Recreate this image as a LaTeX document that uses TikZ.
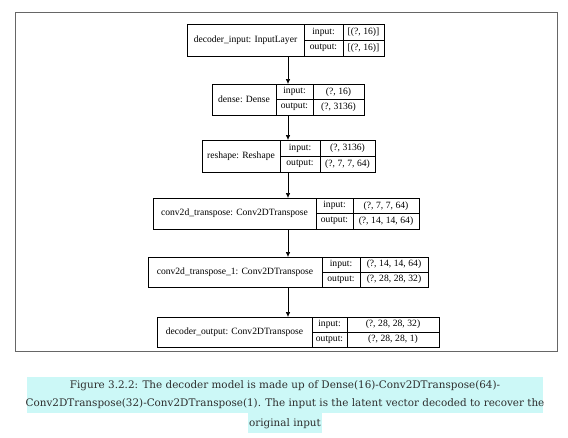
\documentclass[tikz,border=0pt]{standalone}
\usepackage{fontspec}
\setmainfont{Liberation Serif}
\newfontfamily\capfont{DejaVu Serif}
\usetikzlibrary{arrows.meta}
\definecolor{capband}{HTML}{CCF8F7}
\definecolor{captext}{HTML}{2E2E2E}
\definecolor{framegray}{HTML}{666666}
\newcommand{\valfont}{\fontsize{9.6}{11}\selectfont\spaceskip=0.27em\relax}
\tikzset{
  lbox/.style={draw, line width=0.6pt, inner sep=0pt, anchor=north west},
  cell/.style={line width=0.6pt},
  ltxt/.style={font=\fontsize{9.6}{11}\selectfont, inner sep=0pt},
  vtxt/.style={font=\valfont, inner sep=0pt},
  flow/.style={line width=0.6pt, -{Latex[length=5pt,width=4.5pt]}},
  captxt/.style={font=\capfont\fontsize{10.4}{12}\selectfont, text=captext, inner sep=0pt}
}
% #1 name, #2 left, #3 top, #4 split1, #5 split2, #6 right, #7 bottom, #8 label, #9 input; output value in \outval
\newcommand{\mylayer}[9]{%
  \node[lbox, minimum width={(#6-#2)*1pt}, minimum height={(#7-#3)*1pt}] (#1) at (#2,#3) {};
  \draw[cell] (#4,#3) -- (#4,#7);
  \draw[cell] (#5,#3) -- (#5,#7);
  \draw[cell] (#4,{(#3+#7)/2}) -- (#6,{(#3+#7)/2});
  \node[ltxt] (#1-lab) at ({(#2+#4)/2},{(#3+#7)/2}) {#8};
  \node[ltxt] (#1-ik) at ({(#4+#5)/2},{(#3*3+#7)/4}) {input:};
  \node[ltxt] (#1-ok) at ({(#4+#5)/2},{(#3+#7*3)/4}) {output:};
  \node[vtxt] (#1-iv) at ({(#5+#6)/2},{(#3*3+#7)/4}) {#9};
  \mylayerout{#1}{#5}{#6}{#3}{#7}%
}
\newcommand{\mylayerout}[5]{\node[vtxt] (#1-ov) at ({(#2+#3)/2},{(#4+#5*3)/4}) {\outval};}
\begin{document}
\begin{tikzpicture}[x=1pt,y=-1pt]
\useasboundingbox (0,0) rectangle (568,437);
\fill[white] (0,0) rectangle (568,437);
\draw[framegray, line width=1pt] (15,12) rectangle (557,351);
\def\outval{[(?, 16)]}
\mylayer{b1}{187}{24}{304}{343}{384}{56}{decoder\_input: InputLayer}{[(?, 16)]}
\def\outval{(?, 3136)}
\mylayer{b2}{212}{84}{276}{313}{364}{115}{dense: Dense}{(?, 16)}
\def\outval{(?, 7, 7, 64)}
\mylayer{b3}{202}{140}{280}{320}{375}{172}{reshape: Reshape}{(?, 3136)}
\def\outval{(?, 14, 14, 64)}
\mylayer{b4}{153}{198}{316}{353}{419}{229}{conv2d\_transpose: Conv2DTranspose}{(?, 7, 7, 64)}
\def\outval{(?, 28, 28, 32)}
\mylayer{b5}{148}{257}{322}{360}{428}{287}{conv2d\_transpose\_1: Conv2DTranspose}{(?, 14, 14, 64)}
\def\outval{(?, 28, 28, 1)}
\mylayer{b6}{157}{317}{312}{347}{439}{347}{decoder\_output: Conv2DTranspose}{(?, 28, 28, 32)}
\coordinate (ax) at (288,0);
\draw[flow] (b1.south -| ax) -- (b2.north -| ax);
\draw[flow] (b2.south -| ax) -- (b3.north -| ax);
\draw[flow] (b3.south -| ax) -- (b4.north -| ax);
\draw[flow] (b4.south -| ax) -- (b5.north -| ax);
\draw[flow] (b5.south -| ax) -- (b6.north -| ax);
% caption
\fill[capband] (27,377) rectangle (543,413);
\fill[capband] (248,413) rectangle (322,433);
\node[captxt] (c1) at (285,386) {Figure 3.2.2: The decoder model is made up of Dense(16)-Conv2DTranspose(64)-};
\node[captxt] (c2) at (285,404) {Conv2DTranspose(32)-Conv2DTranspose(1). The input is the latent vector decoded to recover the};
\node[captxt] (c3) at (285,424) {original input};
\end{tikzpicture}
\end{document}
